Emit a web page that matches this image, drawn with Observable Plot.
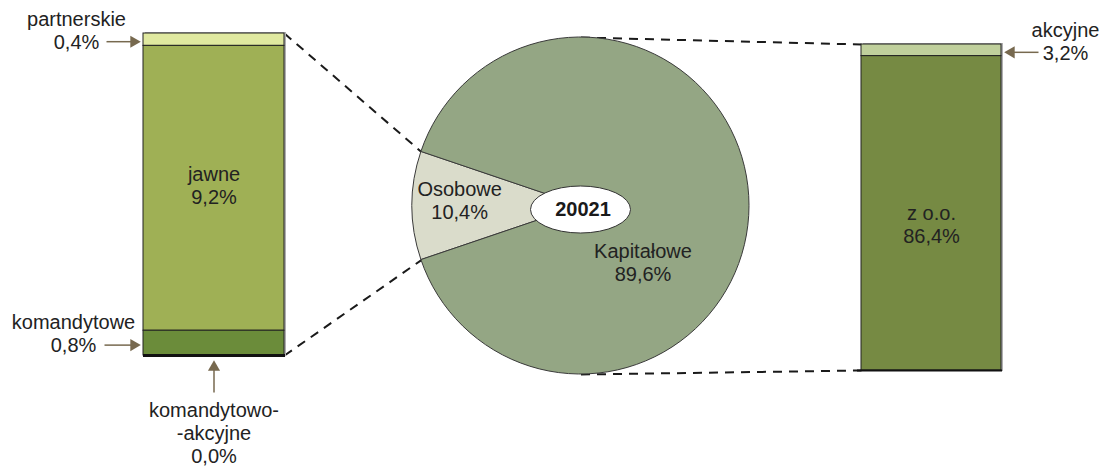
<!DOCTYPE html>
<html>
<head>
<meta charset="utf-8">
<script src="https://cdn.jsdelivr.net/npm/d3@7"></script>
<script src="https://cdn.jsdelivr.net/npm/@observablehq/plot@0.6"></script>
<style>
  html, body { margin: 0; padding: 0; background: #fff; }
  #chart svg { display: block; }
</style>
</head>
<body>
<div id="chart"></div>
<script>
// ---- data ----
const totalLabel = "20021";
const pieCategories = ["Osobowe", "Kapitałowe"];
const pieValues = [10.4, 89.6];
const leftCategories = ["partnerskie", "jawne", "komandytowe", "komandytowo-akcyjne"];
const leftValues = [0.4, 9.2, 0.8, 0.0];
const rightCategories = ["akcyjne", "z o.o."];
const rightValues = [3.2, 86.4];

// ---- styles / layout ----
const colors = {
  "Osobowe": "#dadccb", "Kapitałowe": "#94a684",
  "partnerskie": "#e0e9a0", "jawne": "#9fb055", "komandytowe": "#6b8c3a", "komandytowo-akcyjne": "#222",
  "akcyjne": "#c0d09c", "z o.o.": "#768a43"
};
const W = 1108, H = 467;
const L = {x1: 143, x2: 284, top: 33, bottom: 355};
const R = {x1: 861, x2: 1001, top: 44, bottom: 370};
const P = {cx: 580.5, cy: 205.5, r: 168.5};
const font = "'Liberation Sans', Arial, sans-serif";
const FS = 20;
const arrowColor = "#77694f";

const fmt = v => d3.format(".1f")(v).replace(".", ",") + "%";

function stackSegs(cats, vals, box) {
  const y = d3.scaleLinear([0, d3.sum(vals)], [box.top, box.bottom]);
  let acc = 0;
  return cats.map((c, i) => {
    const s = {cat: c, value: vals[i], x1: box.x1, x2: box.x2, y1: y(acc), y2: y(acc + vals[i])};
    s.ym = (s.y1 + s.y2) / 2; s.xm = (box.x1 + box.x2) / 2;
    acc += vals[i];
    return s;
  });
}
const leftSegs = stackSegs(leftCategories, leftValues, L);
const rightSegs = stackSegs(rightCategories, rightValues, R);

// pie
const f0 = pieValues[0] / d3.sum(pieValues);
const start = -Math.PI / 2 - Math.PI * f0;
const arcs = d3.pie().sort(null).startAngle(start).endAngle(start + 2 * Math.PI)(pieValues);
const arcGen = d3.arc().innerRadius(0).outerRadius(P.r);
const pt = a => [P.cx + P.r * Math.sin(a), P.cy - P.r * Math.cos(a)];
const osob = arcs[0];
const pA = pt(osob.startAngle), pB = pt(osob.endAngle);
const wedgeTop = pA[1] < pB[1] ? pA : pB;
const wedgeBot = pA[1] < pB[1] ? pB : pA;
const osobCentroid = d3.arc().innerRadius(P.r * 0.5).outerRadius(P.r).centroid(osob);

const connectors = [
  {x1: L.x2, y1: L.top, x2: wedgeTop[0], y2: wedgeTop[1]},
  {x1: L.x2, y1: L.bottom, x2: wedgeBot[0], y2: wedgeBot[1]},
  {x1: P.cx, y1: P.cy - P.r, x2: R.x1, y2: R.top},
  {x1: P.cx, y1: P.cy + P.r, x2: R.x1, y2: R.bottom}
];

// labels
const segBy = (segs, c) => segs.find(s => s.cat === c);
const sPart = segBy(leftSegs, "partnerskie");
const sJaw = segBy(leftSegs, "jawne");
const sKom = segBy(leftSegs, "komandytowe");
const sKA = segBy(leftSegs, "komandytowo-akcyjne");
const sAk = segBy(rightSegs, "akcyjne");
const sZoo = segBy(rightSegs, "z o.o.");

const lineH = 23;
const yPartArrow = sPart.ym + 2, yKomArrow = sKom.ym + 2, yAkArrow = sAk.ym + 2;
const texts = [
  {x: 76, y: yPartArrow - lineH / 2, t: sPart.cat + "\n" + fmt(sPart.value)},
  {x: 73, y: yKomArrow - lineH / 2, t: sKom.cat + "\n" + fmt(sKom.value)},
  {x: sKA.xm, y: sKA.y2 + 77, t: "komandytowo-\n-akcyjne\n" + fmt(sKA.value)},
  {x: sJaw.xm, y: sJaw.ym - 3, t: sJaw.cat + "\n" + fmt(sJaw.value)},
  {x: 1065, y: yAkArrow - lineH / 2, t: sAk.cat + "\n" + fmt(sAk.value)},
  {x: sZoo.xm, y: sZoo.ym + 11, t: sZoo.cat + "\n" + fmt(sZoo.value)},
  {x: P.cx + osobCentroid[0] + 5, y: P.cy + osobCentroid[1] - 6, t: pieCategories[0] + "\n" + fmt(pieValues[0])},
  {x: P.cx + 62, y: P.cy + 56, t: pieCategories[1] + "\n" + fmt(pieValues[1])}
];

// arrows: shafts + triangle heads
const tri = 7;
const arrows = [
  {x1: 106, y1: yPartArrow, x2: L.x1 - 5, y2: yPartArrow, rot: 90},
  {x1: 104, y1: yKomArrow, x2: L.x1 - 5, y2: yKomArrow, rot: 90},
  {x1: 1038, y1: yAkArrow, x2: R.x2 + 5, y2: yAkArrow, rot: -90},
  {x1: sKA.xm, y1: L.bottom + 37, x2: sKA.xm, y2: L.bottom + 7, rot: 0}
];
arrows.forEach(a => {
  const dx = Math.sign(a.x1 - a.x2), dy = Math.sign(a.y1 - a.y2);
  a.hx = a.x2 + dx * tri; a.hy = a.y2 + dy * tri;
});

const pieMark = () => {
  const g = d3.create("svg:g").attr("transform", `translate(${P.cx},${P.cy})`);
  g.selectAll("path").data(arcs).join("path")
    .attr("d", arcGen)
    .attr("fill", (d, i) => colors[pieCategories[i]])
    .attr("stroke", "#3a3a3a").attr("stroke-width", 1);
  g.append("ellipse").attr("cx", 0).attr("cy", 4).attr("rx", 50).attr("ry", 23.5)
    .attr("fill", "#fff").attr("stroke", "#333").attr("stroke-width", 1);
  return g.node();
};

const chart = Plot.plot({
  width: W, height: H, margin: 0,
  x: {type: "identity", axis: null},
  y: {type: "identity", axis: null},
  style: {background: "#fff", fontFamily: font},
  marks: [
    Plot.link(connectors, {x1: "x1", y1: "y1", x2: "x2", y2: "y2", stroke: "#1a1a1a", strokeWidth: 2, strokeDasharray: "9,7"}),
    // shadows
    Plot.rect([L, R], {x1: d => d.x1 + 2, x2: d => d.x2 + 2, y1: d => d.top - 1, y2: d => d.bottom + 1, fill: "#b0b0b0"}),
    Plot.rect(leftSegs.filter(s => s.value > 0), {x1: "x1", x2: "x2", y1: "y1", y2: "y2", fill: d => colors[d.cat], stroke: "#222", strokeWidth: 1}),
    Plot.rect(rightSegs, {x1: "x1", x2: "x2", y1: "y1", y2: "y2", fill: d => colors[d.cat], stroke: "#222", strokeWidth: 1}),
    Plot.ruleY([sKA], {y: "y2", x1: d => d.x1, x2: d => d.x2 + 1, stroke: "#111", strokeWidth: 3}),
    Plot.ruleY([sZoo], {y: "y2", x1: d => d.x1 - 4, x2: d => d.x2 + 1, stroke: "#111", strokeWidth: 2}),
    pieMark,
    Plot.text([totalLabel], {x: P.cx + 2, y: P.cy + 4, text: d => d, fontSize: FS, fontWeight: "bold", fill: "#1a1a1a", fontFamily: font}),
    Plot.text(texts, {x: "x", y: "y", text: "t", fontSize: FS, lineHeight: lineH / FS, fill: "#222", fontFamily: font}),
    Plot.link(arrows, {x1: "x1", y1: "y1", x2: "hx", y2: "hy", stroke: arrowColor, strokeWidth: 1.5}),
    Plot.dot(arrows, {x: d => (d.x2 + (d.hx - d.x2) * 0.67), y: d => (d.y2 + (d.hy - d.y2) * 0.67), symbol: "triangle", r: 4.5, rotate: "rot", fill: arrowColor, stroke: "none"})
  ]
});
document.getElementById("chart").appendChild(chart);
</script>
</body>
</html>
